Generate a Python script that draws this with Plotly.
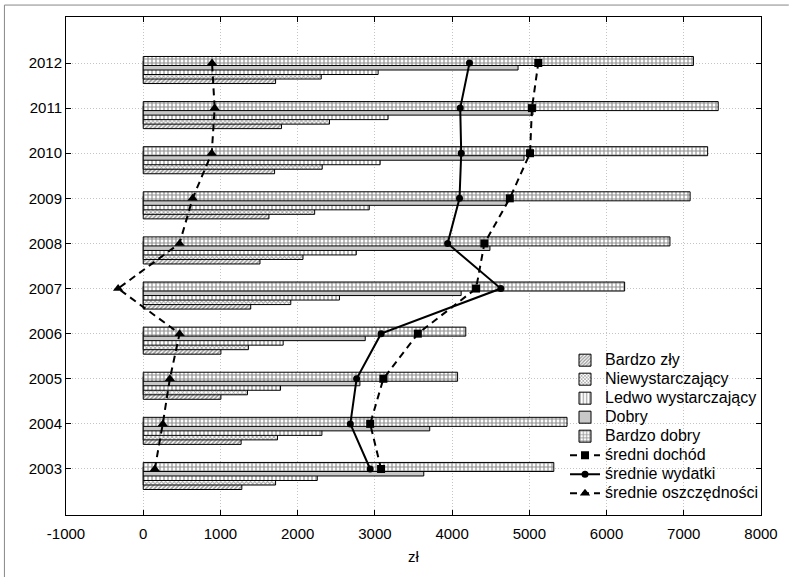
import plotly.graph_objects as go

# ---- data ----
years = [2003, 2004, 2005, 2006, 2007, 2008, 2009, 2010, 2011, 2012]
year_labels = [str(y) for y in years]

bardzo_zly = [1277, 1268, 1006, 1006, 1392, 1512, 1628, 1701, 1791, 1714]
niewystarczajacy = [1714, 1739, 1350, 1362, 1911, 2069, 2220, 2318, 2412, 2305]
ledwo_wystarczajacy = [2254, 2314, 1778, 1812, 2541, 2759, 2927, 3068, 3171, 3042]
dobry = [3633, 3710, 2806, 2875, 4117, 4490, 4704, 4931, 5047, 4854]
bardzo_dobry = [5317, 5488, 4071, 4177, 6234, 6821, 7082, 7309, 7446, 7125]

sredni_dochod = [3080, 2939, 3110, 3556, 4310, 4418, 4747, 5009, 5034, 5116]
srednie_wydatki = [2939, 2682, 2763, 3080, 4631, 3942, 4096, 4118, 4105, 4225]
srednie_oszczednosci = [150, 253, 345, 471, -325, 470, 640, 887, 925, 891]

x_ticks = [-1000, 0, 1000, 2000, 3000, 4000, 5000, 6000, 7000, 8000]

FONT = "Liberation Sans, Arial, sans-serif"


def lg(name):
    return '<span style="font-size:16px">' + name + '</span>'


bar_specs = [
    ("Bardzo zły", bardzo_zly, "/", 3, 0.55, "#333", -0.455),
    ("Niewystarczający", niewystarczajacy, "x", 3, 0.5, "#444", -0.355),
    ("Ledwo wystarczający", ledwo_wystarczajacy, "|", 4, 0.3, "#111", -0.255),
    ("Dobry", dobry, "-", 2, 0.5, "#222", -0.155),
    ("Bardzo dobry", bardzo_dobry, "+", 4, 0.5, "#222", -0.055),
]

fig = go.Figure()
for name, vals, shape, size, sol, fg, off in bar_specs:
    fig.add_trace(go.Bar(
        x=vals, y=years, orientation="h", name=lg(name),
        width=0.2, offset=off,
        marker=dict(color="white", line=dict(color="black", width=1),
                    pattern=dict(shape=shape, size=size, solidity=sol,
                                 fgcolor=fg, bgcolor="white", fillmode="overlay")),
    ))

fig.add_trace(go.Scatter(
    x=sredni_dochod, y=years, mode="lines+markers", name=lg("średni dochód"),
    line=dict(color="black", width=2, dash="7px,5px"),
    marker=dict(symbol="square", size=8, color="black"),
))
fig.add_trace(go.Scatter(
    x=srednie_wydatki, y=years, mode="lines+markers", name=lg("średnie wydatki"),
    line=dict(color="black", width=2),
    marker=dict(symbol="circle", size=7, color="black"),
))
fig.add_trace(go.Scatter(
    x=srednie_oszczednosci, y=years, mode="lines+markers", name=lg("średnie oszczędności"),
    line=dict(color="black", width=2, dash="7px,5px"),
    marker=dict(symbol="triangle-up", size=9, color="black"),
))

GRID = "#c4c4c4"
fig.update_layout(
    width=790, height=577,
    margin=dict(l=66, r=24, t=17, b=62),
    paper_bgcolor="white", plot_bgcolor="white",
    barmode="overlay",
    font=dict(family=FONT, size=15, color="black"),
    legend=dict(x=0.718, y=0.34, xanchor="left", yanchor="top",
                bgcolor="rgba(0,0,0,0)", font=dict(size=12, family=FONT),
                traceorder="normal", itemwidth=30),
    xaxis=dict(range=[-1000, 8000], tickvals=x_ticks, ticktext=[str(v) for v in x_ticks],
               showgrid=True, gridcolor=GRID, griddash="1px,2px", gridwidth=1,
               showline=True, linecolor="black", linewidth=1, mirror="ticks",
               ticks="inside", ticklen=5, tickcolor="black", ticklabelstandoff=5,
               zeroline=False, title=dict(text="zł", font=dict(size=15), standoff=10),
               tickfont=dict(size=15)),
    yaxis=dict(range=[2001.98, 2013.02], tickvals=years, ticktext=year_labels,
               showgrid=True, gridcolor=GRID, griddash="1px,2px", gridwidth=1,
               showline=True, linecolor="black", linewidth=1, mirror="ticks",
               ticks="inside", ticklen=5, tickcolor="black",
               zeroline=False, tickfont=dict(size=15)),
    shapes=[
        dict(type="line", xref="paper", yref="paper", x0=-0.0886, x1=-0.0886,
             y0=-0.13, y1=1.024, line=dict(color="#888", width=1)),
        dict(type="line", xref="paper", yref="paper", x0=-0.0886, x1=1.04,
             y0=1.024, y1=1.024, line=dict(color="#888", width=1)),
    ],
)

fig.write_html("out.html", config={"displayModeBar": False},
               post_script="document.body.style.margin='0px';")
